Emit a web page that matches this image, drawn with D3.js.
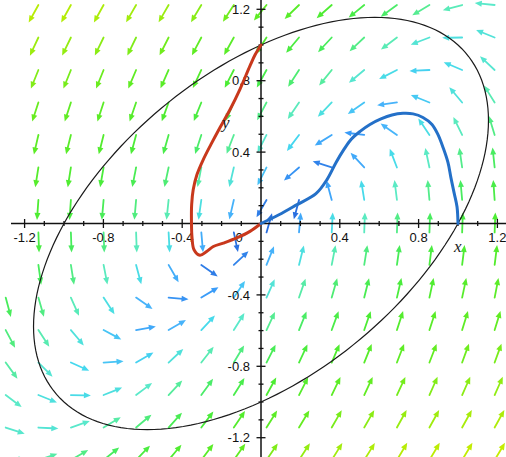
<!DOCTYPE html>
<html>
<head>
<meta charset="utf-8">
<script src="https://cdn.jsdelivr.net/npm/d3@7"></script>
<style>
  body { margin: 0; background: #fff; }
  svg { display: block; }
  .tick-label { font-family: "Liberation Sans", Arial, Helvetica, sans-serif; font-size: 13px; fill: #111; }
  .axis-name { font-family: "Liberation Serif", "Times New Roman", serif; font-style: italic; font-size: 17px; fill: #222; }
</style>
</head>
<body>
<svg id="chart" width="506" height="457"></svg>
<script>
// grid of the direction field (data coords of each arrow's tail)
const gridX = [-1.296, -1.130, -0.965, -0.799, -0.634, -0.469, -0.303, -0.138, 0.028, 0.193, 0.359, 0.524, 0.690, 0.855, 1.021, 1.186];
const gridY = [1.224, 1.042, 0.860, 0.678, 0.496, 0.314, 0.132, -0.050, -0.232, -0.415, -0.597, -0.779, -0.961, -1.143, -1.325];

// arrow direction on screen, degrees counter-clockwise from +x (one row per gridY)
// null = no arrow visible at that grid point
const arrowAngle = [
  [null, -119, -119, -119, -120, -120, -121, -123, -129, -136, -139, -141, -144, -149, -165, 174],
  [null, -115, -116, -116, -116, -117, -118, -119, -123, -130, -133, -137, -143, -159, -179, 158],
  [null, -112, -112, -112, -113, -114, -115, -117, -119, -123, -129, -140, -153, -177, 157, 137],
  [null, -108, -108, -108, -109, -110, -112, -114, -118, -124, -134, -145, -172, 158, 130, 122],
  [null, -103, -104, -104, -105, -106, -108, -111, -117, -127, -148, 173, 145, 124, 116, 107],
  [null, -99, -99, -100, -101, -102, -101, -103, -117, -139, 162, 133, 111, 102, 98, 96],
  [null, -94, -94, -95, -95, -96, -98, -103, -120, -105, 105, 99, 97, 95, 95, 94],
  [null, -88, -88, -88, -88, -87, -85, -78, 74, 85, 87, 88, 88, 88, 88, 88],
  [null, -82, -81, -79, -75, -60, -35, 43, 68, 76, 79, 81, 82, 83, 83, 83],
  [-75, -74, -66, -57, -35, -5, 31, 56, 66, 71, 74, 76, 77, 78, 78, 79],
  [-62, -57, -50, -28, 10, 30, 47, 58, 65, 68, 70, 71, 72, 72, 73, 73],
  [-54, -45, -24, 4, 30, 43, 52, 59, 63, 65, 67, 68, 69, 69, 70, 70],
  [-37, -22, -1, 22, 37, 47, 54, 58, 61, 63, 64, 65, 65, 66, 66, 66],
  [-18, -3, 19, 31, 40, 48, 53, 56, 58, 59, 60, 60, 61, 61, 61, 61],
  [3, 18, 30, 39, 46, 50, 53, 55, 56, 57, 58, 58, 59, 59, 59, 59]
];

// field magnitude at each arrow (drives the colour)
const arrowSpeed = [
  [2.75, 2.74, 2.73, 2.70, 2.67, 2.64, 2.58, 2.50, 2.41, 2.29, 2.13, 1.94, 1.73, 1.51, 1.32, 1.23],
  [2.67, 2.65, 2.62, 2.59, 2.55, 2.50, 2.42, 2.32, 2.18, 2.01, 1.81, 1.58, 1.34, 1.14, 1.04, 1.10],
  [2.58, 2.56, 2.52, 2.48, 2.42, 2.33, 2.23, 2.09, 1.91, 1.69, 1.44, 1.18, 0.96, 0.86, 0.95, 1.17],
  [2.50, 2.47, 2.42, 2.35, 2.26, 2.15, 2.01, 1.81, 1.58, 1.31, 1.03, 0.78, 0.68, 0.81, 1.07, 1.35],
  [2.42, 2.37, 2.30, 2.21, 2.08, 1.93, 1.73, 1.49, 1.20, 0.89, 0.60, 0.50, 0.69, 0.99, 1.30, 1.58],
  [2.32, 2.26, 2.16, 2.04, 1.87, 1.67, 1.41, 1.10, 0.76, 0.44, 0.33, 0.60, 0.95, 1.27, 1.55, 1.78],
  [2.23, 2.13, 2.00, 1.84, 1.62, 1.35, 1.03, 0.67, 0.29, 0.20, 0.57, 0.94, 1.27, 1.55, 1.78, 1.96],
  [2.12, 1.98, 1.80, 1.59, 1.31, 0.99, 0.62, 0.22, 0.20, 0.59, 0.97, 1.29, 1.57, 1.79, 1.97, 2.11],
  [1.98, 1.80, 1.58, 1.30, 0.98, 0.63, 0.29, 0.33, 0.67, 1.03, 1.35, 1.61, 1.83, 2.00, 2.13, 2.23],
  [1.81, 1.59, 1.32, 1.01, 0.68, 0.44, 0.50, 0.79, 1.12, 1.41, 1.67, 1.88, 2.04, 2.17, 2.27, 2.34],
  [1.62, 1.36, 1.07, 0.78, 0.60, 0.68, 0.93, 1.23, 1.51, 1.75, 1.95, 2.10, 2.22, 2.32, 2.38, 2.43],
  [1.42, 1.15, 0.90, 0.78, 0.86, 1.08, 1.35, 1.61, 1.84, 2.03, 2.17, 2.29, 2.38, 2.45, 2.49, 2.53],
  [1.25, 1.05, 0.96, 1.04, 1.24, 1.46, 1.73, 1.92, 2.12, 2.26, 2.37, 2.45, 2.51, 2.56, 2.59, 2.61],
  [1.20, 1.14, 1.22, 1.41, 1.63, 1.86, 2.05, 2.23, 2.36, 2.46, 2.53, 2.59, 2.63, 2.66, 2.69, 2.71],
  [1.33, 1.41, 1.58, 1.79, 2.00, 2.17, 2.33, 2.45, 2.55, 2.62, 2.67, 2.71, 2.74, 2.76, 2.78, 2.79]
];

// solution curves
const blueCurve = [
  [1.0, 0.0], [0.995, 0.094], [0.980, 0.173], [0.964, 0.257], [0.949, 0.342], [0.924, 0.426],
  [0.898, 0.499], [0.868, 0.555], [0.822, 0.594], [0.772, 0.614], [0.721, 0.617], [0.665, 0.608],
  [0.609, 0.586], [0.553, 0.555], [0.503, 0.516], [0.457, 0.471], [0.421, 0.415], [0.381, 0.342],
  [0.335, 0.246], [0.279, 0.167], [0.183, 0.106], [0.091, 0.049], [0.0, 0.0]
];
const redCurve = [
  [0.0, 1.0], [-0.030, 0.945], [-0.056, 0.883], [-0.107, 0.752], [-0.157, 0.639], [-0.208, 0.538],
  [-0.254, 0.443], [-0.293, 0.358], [-0.325, 0.274], [-0.344, 0.190], [-0.352, 0.106], [-0.353, 0.010],
  [-0.350, -0.080], [-0.340, -0.147], [-0.310, -0.178], [-0.276, -0.157], [-0.242, -0.129],
  [-0.191, -0.110], [-0.123, -0.081], [-0.056, -0.044], [0.0, 0.0]
];

// level curve x^2 - xy + y^2 = 1 : semi-axes and tilt (degrees)
const ellipseAxes = [1.4142, 0.8165];
const ellipseTilt = 45;

const minorTicks = [-1.2, -1.1, -1.0, -0.9, -0.8, -0.7, -0.6, -0.5, -0.4, -0.3, -0.2, -0.1,
  0.1, 0.2, 0.3, 0.4, 0.5, 0.6, 0.7, 0.8, 0.9, 1.0, 1.1, 1.2];
const majorTicks = [-1.2, -0.8, -0.4, 0.4, 0.8, 1.2];
const tickText = ['-1.2', '-0.8', '-0.4', '0.4', '0.8', '1.2'];

const svg = d3.select('#chart');

const x = d3.scaleLinear().domain([-1.2, 1.2]).range([24.6, 497.4]);
const y = d3.scaleLinear().domain([-1.2, 1.2]).range([437.7, 9.3]);

const color = d3.scaleLinear()
  .domain([0.2, 0.5, 0.7, 0.9, 1.25, 1.5, 1.8, 2.1, 2.45, 2.6, 2.8])
  .range(['#2a6fe0', '#3a9cf8', '#48b6fa', '#45d8ee', '#5beac8', '#55ec94', '#48ec5c', '#4cec34', '#62ec22', '#8eec14', '#c8ec00'])
  .clamp(true);

// direction field
const arrowLen = 20;
const headLen = 7;
const headHalf = 3;

const arrows = [];
gridY.forEach((gy, j) => {
  gridX.forEach((gx, k) => {
    if (arrowAngle[j][k] === null) return;
    arrows.push({gx, gy, a: arrowAngle[j][k], s: arrowSpeed[j][k]});
  });
});

const field = svg.append('g').attr('class', 'field');

const arrow = field.selectAll('g')
  .data(arrows)
  .enter().append('g')
  .attr('transform', d => `translate(${x(d.gx)},${y(d.gy)}) rotate(${-d.a})`);

arrow.append('line')
  .attr('x1', 0).attr('y1', 0)
  .attr('x2', arrowLen - headLen + 1).attr('y2', 0)
  .attr('stroke', d => color(d.s))
  .attr('stroke-width', 1.8)
  .attr('stroke-linecap', 'round');

arrow.append('path')
  .attr('d', `M${arrowLen},0 L${arrowLen - headLen},${-headHalf} L${arrowLen - headLen},${headHalf} Z`)
  .attr('fill', d => color(d.s));

// axes
const axes = svg.append('g').attr('class', 'axes');

axes.append('line')
  .attr('x1', 11).attr('x2', 506)
  .attr('y1', y(0)).attr('y2', y(0))
  .attr('stroke', '#111').attr('stroke-width', 1.5);

axes.append('line')
  .attr('x1', x(0)).attr('x2', x(0))
  .attr('y1', 0).attr('y2', 457)
  .attr('stroke', '#111').attr('stroke-width', 1.5);

axes.selectAll('.xminor')
  .data(minorTicks)
  .enter().append('line')
  .attr('x1', d => x(d)).attr('x2', d => x(d))
  .attr('y1', d => y(0) - (majorTicks.includes(d) ? 4.5 : 2.5))
  .attr('y2', d => y(0) + (majorTicks.includes(d) ? 4.5 : 2.5))
  .attr('stroke', '#111').attr('stroke-width', 1.3);

axes.selectAll('.yminor')
  .data(minorTicks)
  .enter().append('line')
  .attr('y1', d => y(d)).attr('y2', d => y(d))
  .attr('x1', d => x(0) - (majorTicks.includes(d) ? 4.5 : 2.5))
  .attr('x2', d => x(0) + (majorTicks.includes(d) ? 4.5 : 2.5))
  .attr('stroke', '#111').attr('stroke-width', 1.3);

axes.selectAll('.xlab')
  .data(majorTicks)
  .enter().append('text')
  .attr('class', 'tick-label')
  .attr('x', d => x(d))
  .attr('y', y(0) + 18.5)
  .attr('text-anchor', 'middle')
  .text((d, i) => tickText[i]);

axes.append('text')
  .attr('class', 'tick-label')
  .attr('x', x(0) - 22)
  .attr('y', y(0) + 18.5)
  .attr('text-anchor', 'middle')
  .text('0');

axes.selectAll('.ylab')
  .data(majorTicks)
  .enter().append('text')
  .attr('class', 'tick-label')
  .attr('x', x(0) - 11)
  .attr('y', d => y(d))
  .attr('dy', '0.36em')
  .attr('text-anchor', 'end')
  .text((d, i) => tickText[i]);

// level curve
const tilt = ellipseTilt * Math.PI / 180;
const ellipsePts = d3.range(0, 361, 2).map(t => {
  const r = t * Math.PI / 180;
  const u = ellipseAxes[0] * Math.cos(r);
  const v = ellipseAxes[1] * Math.sin(r);
  return [u * Math.cos(tilt) - v * Math.sin(tilt), u * Math.sin(tilt) + v * Math.cos(tilt)];
});

const line = d3.line()
  .x(d => x(d[0]))
  .y(d => y(d[1]));

svg.append('path')
  .attr('d', line.curve(d3.curveLinear)(ellipsePts))
  .attr('fill', 'none')
  .attr('stroke', '#1a1a1a')
  .attr('stroke-width', 1.2);

// solution curves
const smooth = d3.line()
  .x(d => x(d[0]))
  .y(d => y(d[1]))
  .curve(d3.curveCatmullRom.alpha(0.5));

svg.append('path')
  .attr('d', smooth(redCurve))
  .attr('fill', 'none')
  .attr('stroke', '#c8381c')
  .attr('stroke-width', 3)
  .attr('stroke-linecap', 'round');

svg.append('path')
  .attr('d', smooth(blueCurve))
  .attr('fill', 'none')
  .attr('stroke', '#2470c8')
  .attr('stroke-width', 3)
  .attr('stroke-linecap', 'round');

// axis names
svg.append('text').attr('class', 'axis-name').attr('x', 454).attr('y', 252).text('x');
svg.append('text').attr('class', 'axis-name').attr('x', 222).attr('y', 128).text('y');
</script>
</body>
</html>
